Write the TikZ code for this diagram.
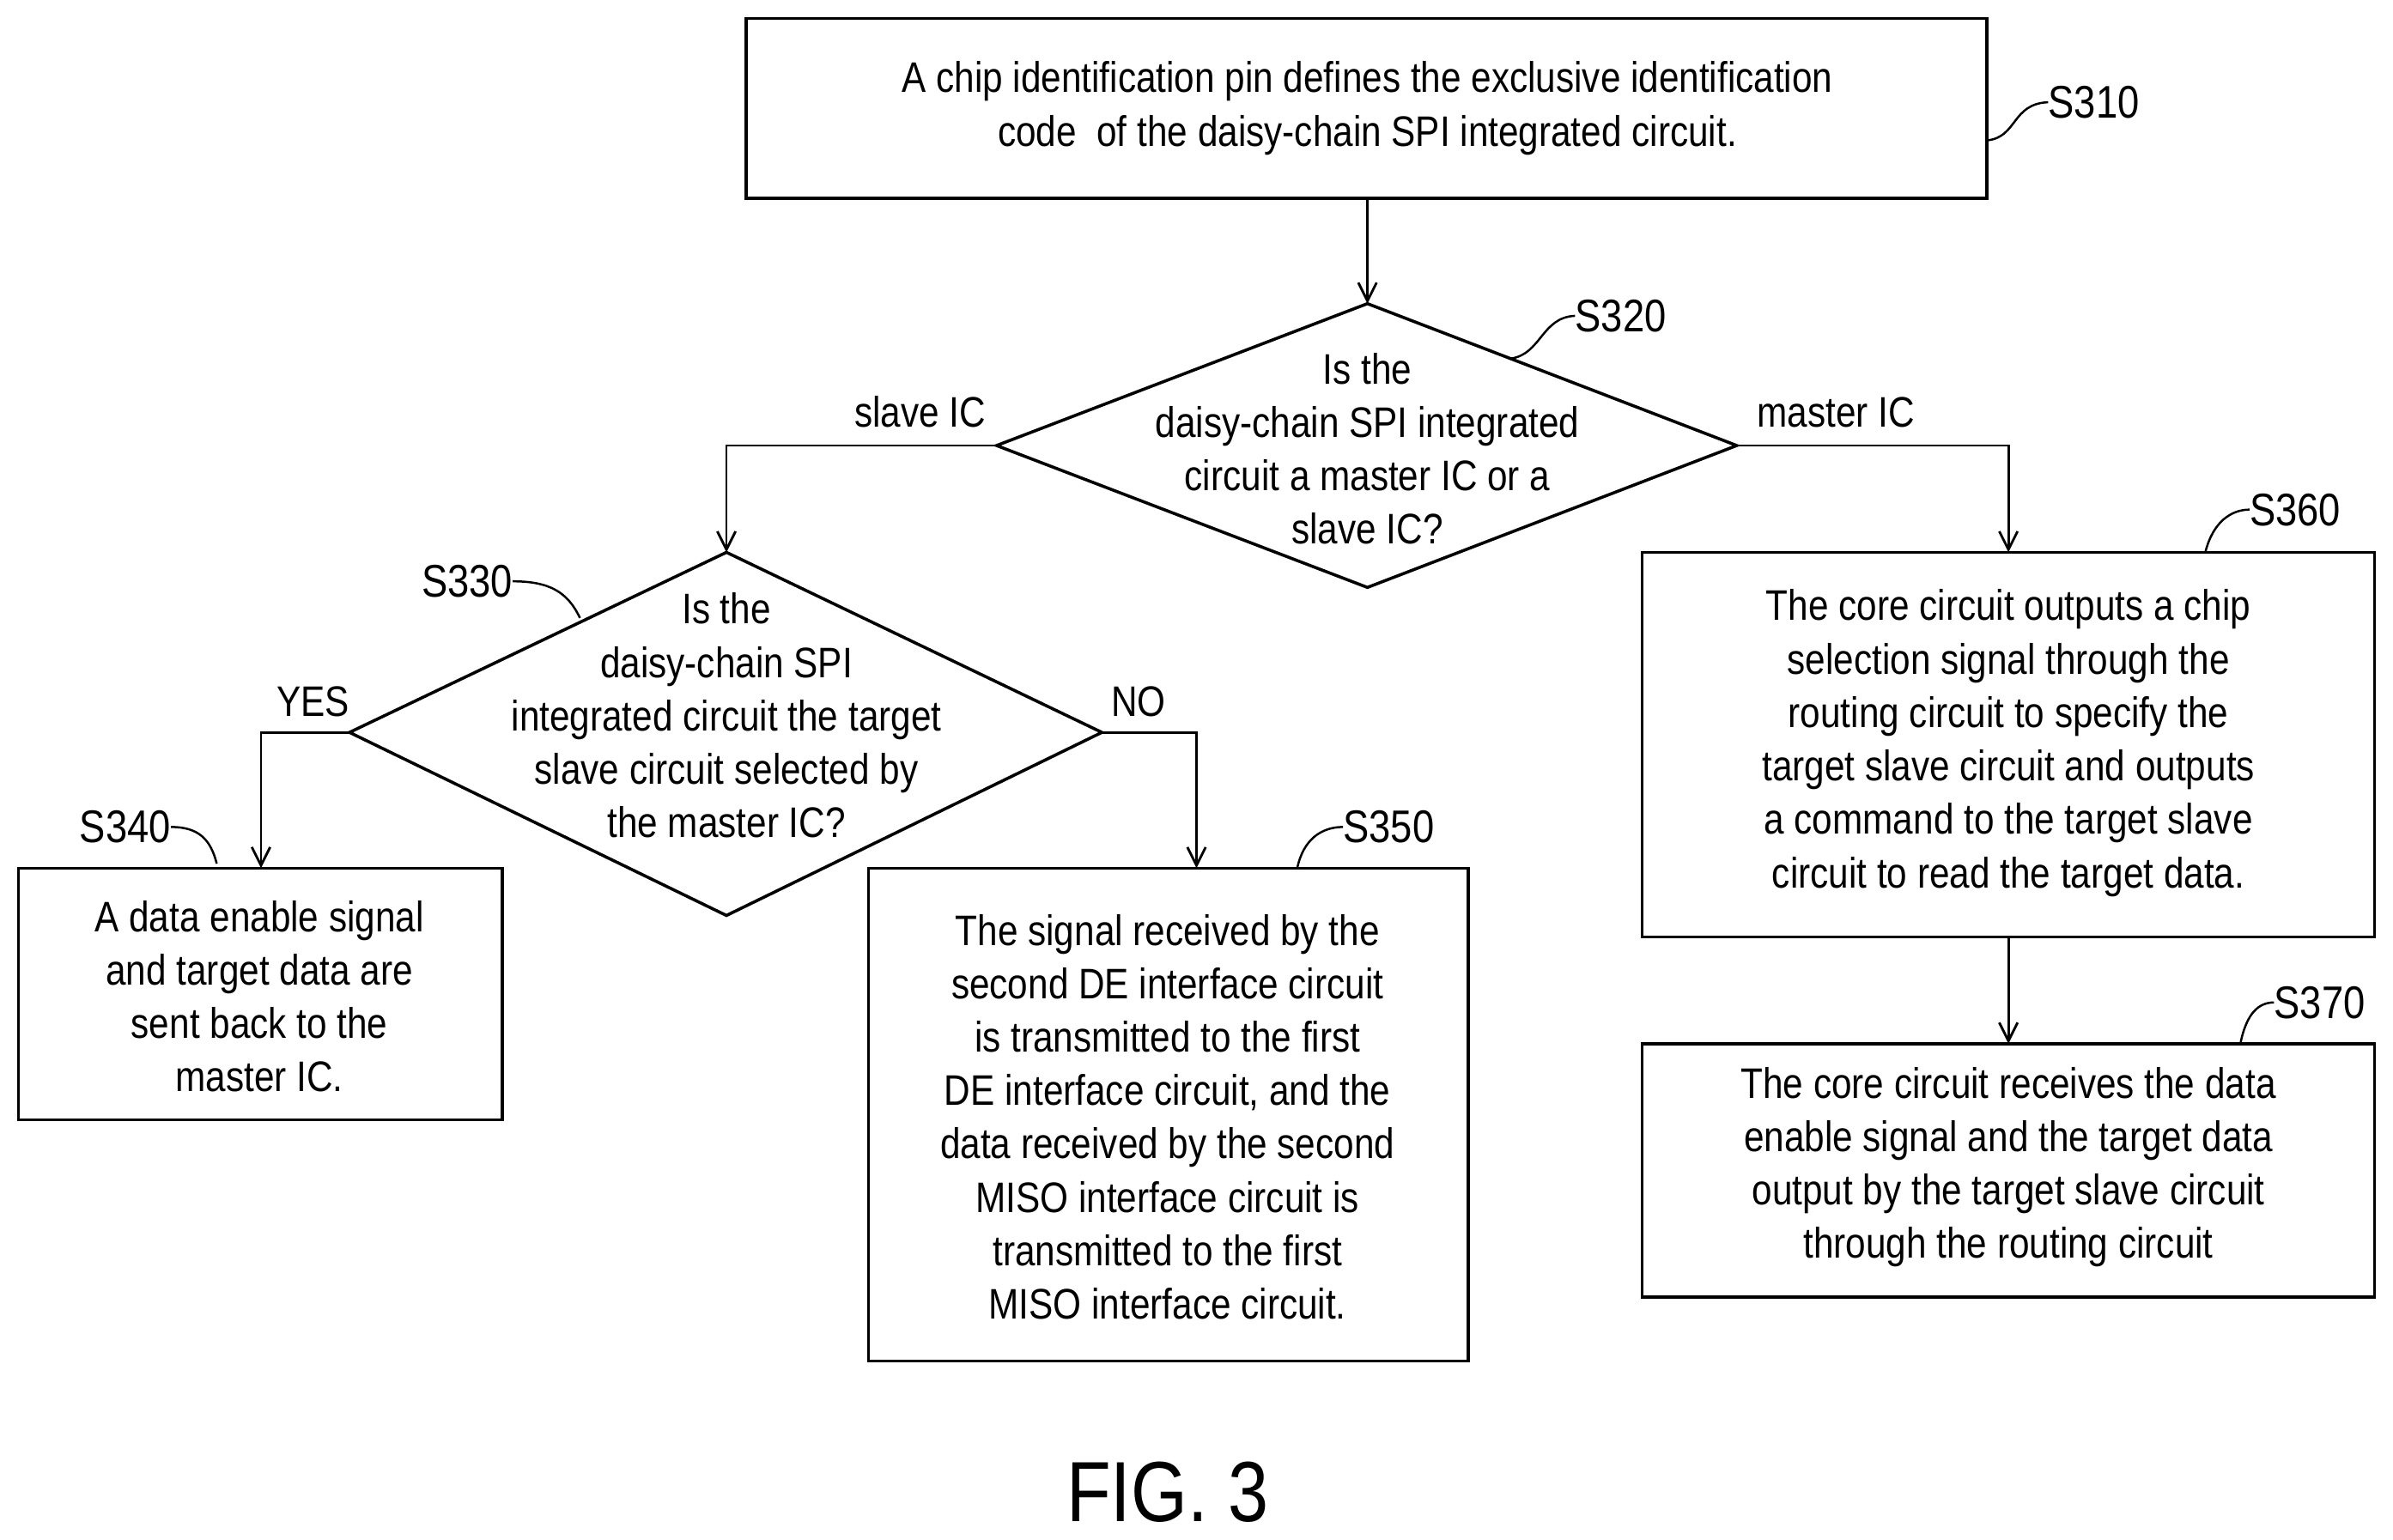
\documentclass[tikz,border=0pt]{standalone}
\usepackage{fontspec}
\setmainfont{Liberation Sans}[FakeStretch=0.85]
\usetikzlibrary{arrows.meta}
\begin{document}
\begin{tikzpicture}[x=1pt,y=-1pt,
  txt/.style={font=\fontsize{28}{35}\selectfont,align=center,inner sep=0},
  box/.style={draw,line width=2pt},
  arr/.style={line width=1.6pt,-{Straight Barb[length=12pt,width=12pt]}},
  lead/.style={line width=1.4pt},
  lbl/.style={font=\fontsize{30}{36}\selectfont,inner sep=0}]
\useasboundingbox (0,0) rectangle (1568,1009);
% S310
\draw[box] (489,12) rectangle (1302,130);
\node[txt] (t310) at (896,71) {A chip identification pin defines the exclusive identification\\code\ \ of the daisy-chain SPI integrated circuit.};
\coordinate (b310) at (896,130);
% S320
\coordinate (d2t) at (896,199); \coordinate (d2b) at (896,385);
\coordinate (d2l) at (653,292); \coordinate (d2r) at (1138,292);
\draw[box] (d2t)--(d2r)--(d2b)--(d2l)--cycle;
\node[txt] (t320) at (896,294) {Is the\\daisy-chain SPI integrated\\circuit a master IC or a\\slave IC?};
% S330
\coordinate (d3t) at (476,362); \coordinate (d3b) at (476,600);
\coordinate (d3l) at (229,480); \coordinate (d3r) at (722,480);
\draw[box] (d3t)--(d3r)--(d3b)--(d3l)--cycle;
\node[txt] (t330) at (476,469) {Is the\\daisy-chain SPI\\integrated circuit the target\\slave circuit selected by\\the master IC?};
% S340
\draw[box] (12,569) rectangle (329,734);
\node[txt] (t340) at (170,653) {A data enable signal\\and target data are\\sent back to the\\master IC.};
\coordinate (t340top) at (171,569);
% S350
\draw[box] (569,569) rectangle (962,892);
\node[txt] (t350) at (765,732) {The signal received by the\\second DE interface circuit\\is transmitted to the first\\DE interface circuit, and the\\data received by the second\\MISO interface circuit is\\transmitted to the first\\MISO interface circuit.};
\coordinate (t350top) at (784,569);
% S360
\draw[box] (1076,362) rectangle (1556,614);
\node[txt] (t360) at (1316,487) {The core circuit outputs a chip\\selection signal through the\\routing circuit to specify the\\target slave circuit and outputs\\a command to the target slave\\circuit to read the target data.};
\coordinate (t360top) at (1316,362); \coordinate (t360bot) at (1316,614);
% S370
\draw[box] (1076,684) rectangle (1556,850);
\node[txt] (t370) at (1316,765) {The core circuit receives the data\\enable signal and the target data\\output by the target slave circuit\\through the routing circuit};
\coordinate (t370top) at (1316,684);
% connectors
\draw[arr] (b310) -- (d2t);
\draw[arr] (d2l) -| (d3t);
\draw[arr] (d2r) -| (t360top);
\draw[arr] (d3l) -| (t340top);
\draw[arr] (d3r) -| (t350top);
\draw[arr] (t360bot) -- (t370top);
% branch labels
\node[txt] (ls) at (603,270) {slave IC};
\node[txt] (lm) at (1203,270) {master IC};
\node[txt] (ly) at (205,460) {YES};
\node[txt] (ln) at (746,460) {NO};
% step labels
\node[lbl,anchor=west] (s310) at (1342,67) {S310};
\draw[lead] (1302,92) .. controls (1322,90) and (1318,68) .. (s310.west);
\node[lbl,anchor=west] (s320) at (1032,207) {S320};
\draw[lead] (990,235) .. controls (1010,232) and (1010,208) .. (s320.west);
\node[lbl,anchor=east] (s330) at (336,381) {S330};
\draw[lead] (s330.east) .. controls (360,381) and (372,388) .. (380,405);
\node[lbl,anchor=east] (s340) at (112,542) {S340};
\draw[lead] (s340.east) .. controls (130,542) and (138,550) .. (142,566);
\node[lbl,anchor=west] (s350) at (880,542) {S350};
\draw[lead] (850,569) .. controls (854,550) and (866,542) .. (s350.west);
\node[lbl,anchor=west] (s360) at (1474,334) {S360};
\draw[lead] (1445,362) .. controls (1450,342) and (1462,334) .. (s360.west);
\node[lbl,anchor=west] (s370) at (1490,657) {S370};
\draw[lead] (1468,684) .. controls (1472,664) and (1480,657) .. (s370.west);
% figure caption
\node[font=\fontsize{56}{60}\selectfont,inner sep=0] (fig) at (765,978) {FIG. 3};
\end{tikzpicture}
\end{document}
